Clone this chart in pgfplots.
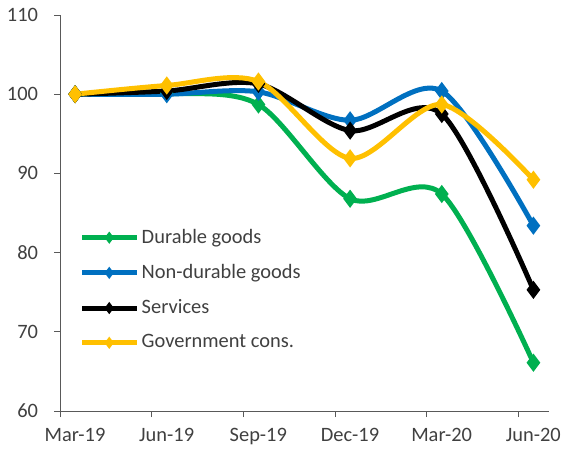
\documentclass[border=0pt]{standalone}
\usepackage{pgfplots}
\pgfplotsset{compat=1.18}
\usepackage{fontspec}
\setmainfont{Carlito}
\definecolor{cgreen}{HTML}{00B050}
\definecolor{cblue}{HTML}{0070C0}
\definecolor{cyellow}{HTML}{FFC000}
\definecolor{axisgray}{HTML}{595959}
\definecolor{txt}{HTML}{404040}
\begin{document}
\fontsize{20.5}{24}\selectfont
\begin{tikzpicture}
\useasboundingbox (0,0) rectangle (562bp,451bp);
\begin{axis}[
  at={(60bp,40bp)}, anchor=south west,
  scale only axis, width=489bp, height=396bp,
  xmin=-0.165, xmax=5.17, ymin=60, ymax=110,
  ytick={60,70,...,110},
  xtick={-0.165,0.835,1.835,2.835,3.835,4.835},
  xticklabels={Mar-19,Jun-19,Sep-19,Dec-19,Mar-20,Jun-20},
  x tick label style={xshift=15bp, text=txt, yshift=-4bp},
  y tick label style={text=txt, xshift=-9bp},
  axis lines*=left,
  axis line style={axisgray, line width=0.8bp},
  tick style={axisgray, line width=0.8bp},
  tick align=outside,
  major tick length=6bp,
  /pgf/number format/assume math mode=true,
  tick label style={font=\fontsize{20.5}{24}\selectfont},
  legend style={at={(0.04,0.465)}, anchor=north west, draw=none, fill=none,
    font=\fontsize{20.5}{24}\selectfont, text=txt, row sep=14bp,
    inner sep=0pt},
  legend cell align=left,
  legend image code/.code={\draw[mark repeat=2,mark phase=2,#1,mark size=2bp] plot coordinates {(0bp,0bp) (27bp,0bp) (55bp,0bp)};},
  every axis plot/.append style={line width=5bp, smooth, mark=diamond*, mark size=5bp, mark options={solid}},
]
\addplot[cgreen, mark options={fill=cgreen}] coordinates {(0,100) (1,100.1) (2,98.7) (3,86.8) (4,87.4) (5,66.1)};
\addlegendentry{Durable goods}
\addplot[cblue, mark options={fill=cblue}] coordinates {(0,100) (1,100.0) (2,100.3) (3,96.7) (4,100.4) (5,83.4)};
\addlegendentry{Non-durable goods}
\addplot[black, mark options={fill=black}] coordinates {(0,100) (1,100.4) (2,101.3) (3,95.4) (4,97.5) (5,75.3)};
\addlegendentry{Services}
\addplot[cyellow, mark options={fill=cyellow}] coordinates {(0,100) (1,101.1) (2,101.6) (3,91.9) (4,98.7) (5,89.2)};
\addlegendentry{Government cons.}
\end{axis}
\end{tikzpicture}
\end{document}
